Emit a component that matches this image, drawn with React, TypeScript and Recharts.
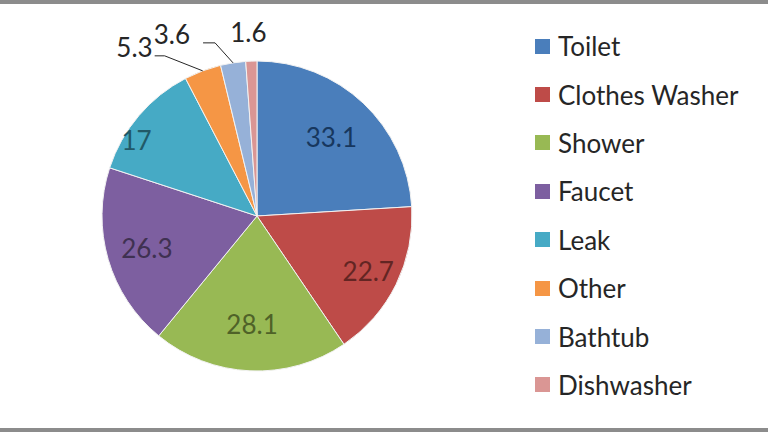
import { PieChart, Pie, Cell, Legend } from 'recharts';

const categories = ['Toilet', 'Clothes Washer', 'Shower', 'Faucet', 'Leak', 'Other', 'Bathtub', 'Dishwasher'];
const usage = [33.1, 22.7, 28.1, 26.3, 17, 5.3, 3.6, 1.6];
const sliceColors = ['#4A7EBB', '#BE4B48', '#98B954', '#7D5FA0', '#46AAC5', '#F59645', '#96B1D8', '#DA9694'];
const labelColors = ['#17375E', '#632523', '#4F6228', '#3F3151', '#215968', '#262626', '#262626', '#262626'];

const data = categories.map((name, i) => ({ name, value: usage[i] }));

const FONT = 'Lato, "Open Sans", sans-serif';
const RADIAN = Math.PI / 180;

// leader layout for the thin slices at the top (offsets from the slice edge)
const leaders: Record<number, { dx: number; dy: number; tail: number; gap: number; line: boolean }> = {
  5: { dx: -38, dy: -15, tail: 10, gap: 2, line: true },
  6: { dx: -18, dy: -20, tail: 12, gap: 13, line: true },
  7: { dx: -3, dy: -19, tail: 0, gap: 0, line: false },
};

const renderLabel = (props: any) => {
  const { cx, cy, midAngle, outerRadius, value, index } = props;
  const leader = leaders[index];

  if (!leader) {
    // Excel's best-fit nudges the Leak label a bit toward the left edge
    const angle = index === 4 ? midAngle + 8 : midAngle;
    const r = outerRadius * (index === 4 ? 0.92 : index === 1 ? 0.8 : index === 3 ? 0.74 : 0.7);
    return (
      <text
        x={cx + r * Math.cos(-angle * RADIAN)}
        y={cy + r * Math.sin(-angle * RADIAN)}
        fill={labelColors[index]}
        fontFamily={FONT}
        fontSize={26}
        textAnchor="middle"
        dominantBaseline="central"
      >
        {value}
      </text>
    );
  }

  const ex = cx + outerRadius * Math.cos(-midAngle * RADIAN);
  const ey = cy + outerRadius * Math.sin(-midAngle * RADIAN);
  const bx = ex + leader.dx;
  const by = ey + leader.dy;

  if (!leader.line) {
    return (
      <text x={bx} y={by} fill={labelColors[index]} fontFamily={FONT} fontSize={26} textAnchor="middle">
        {value}
      </text>
    );
  }

  const tx = bx - leader.tail;
  return (
    <g>
      <polyline points={`${ex},${ey} ${bx},${by} ${tx},${by}`} fill="none" stroke="#262626" strokeWidth={1} />
      <text x={tx - leader.gap} y={by + 1} fill={labelColors[index]} fontFamily={FONT} fontSize={26} textAnchor="end">
        {value}
      </text>
    </g>
  );
};

const renderLegend = () => (
  <div style={{ fontFamily: FONT, fontSize: 26, color: '#262626' }}>
    {categories.map((name, i) => (
      <div key={name} style={{ display: 'flex', alignItems: 'center', height: 48.4 }}>
        <span style={{ width: 15, height: 15, background: sliceColors[i], marginRight: 8, display: 'inline-block' }} />
        <span>{name}</span>
      </div>
    ))}
  </div>
);

export default function App() {
  return (
    <div
      style={{
        position: 'absolute',
        left: 0,
        top: 0,
        width: 768,
        height: 432,
        background: '#ffffff',
        boxSizing: 'border-box',
        borderTop: '4px solid #8c8c8c',
        borderBottom: '4px solid #8c8c8c',
      }}
    >
      <div style={{ position: 'absolute', left: 0, top: -4 }}>
        <PieChart width={768} height={432} margin={{ top: 0, right: 0, bottom: 0, left: 0 }}>
          <Pie
            data={data}
            dataKey="value"
            nameKey="name"
            cx={257}
            cy={216}
            outerRadius={155}
            startAngle={90}
            endAngle={-270}
            stroke="#f2f2f2"
            strokeWidth={1}
            label={renderLabel}
            labelLine={false}
            isAnimationActive={false}
          >
            {data.map((d, i) => (
              <Cell key={d.name} fill={sliceColors[i]} />
            ))}
          </Pie>
          <Legend
            layout="vertical"
            content={renderLegend}
            wrapperStyle={{ position: 'absolute', left: 535, top: 22, width: 230 }}
          />
        </PieChart>
      </div>
    </div>
  );
}
